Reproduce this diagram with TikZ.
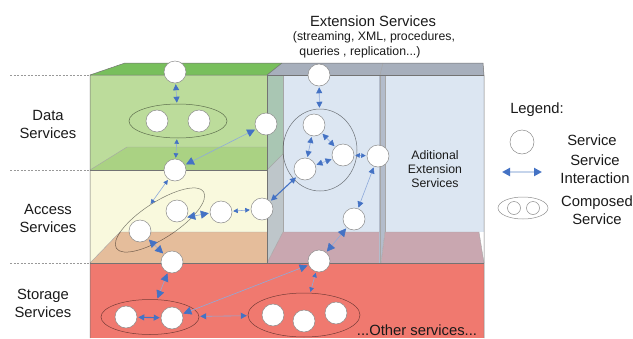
\documentclass[tikz,border=0pt]{standalone}
\usepackage{fontspec}
\setmainfont{Liberation Sans}
\usetikzlibrary{arrows.meta,shapes.geometric}

\definecolor{greentop}{HTML}{78BF5C}
\definecolor{greenfront}{HTML}{BCDC9B}
\definecolor{greenfloor}{HTML}{AAD283}
\definecolor{yellowfront}{HTML}{F9F9DD}
\definecolor{tanfloor}{HTML}{E5BD9B}
\definecolor{storagered}{HTML}{F0796F}
\definecolor{bandgray}{HTML}{A7AFBC}
\definecolor{wallblue}{HTML}{DCE6F2}
\definecolor{sidegray}{HTML}{BEC6CA}
\definecolor{sidegreen}{HTML}{A9C6B3}
\definecolor{divgray}{HTML}{B3BCCB}
\definecolor{mauve}{HTML}{C9A7B0}
\definecolor{linkc}{HTML}{8EAADB}
\definecolor{tipc}{HTML}{4472C4}
\definecolor{txt}{HTML}{1A1A1A}

\tikzset{
  edge/.style={draw=black!55, line width=0.5pt},
  faint/.style={draw=black!35, line width=0.4pt},
  guide/.style={draw=black!40, line width=0.4pt, dash pattern=on 2pt off 1.5pt},
  svc/.style={circle, draw=black!45, fill=white, line width=0.5pt, minimum size=22pt, inner sep=0pt},
  comp/.style={ellipse, draw=black, draw opacity=0.5, line width=0.5pt, inner sep=0pt},
  big/.style={font=\fontsize{14.8}{18}\selectfont, text=txt, align=center, inner sep=0pt},
  small/.style={font=\fontsize{12.3}{14}\selectfont, text=txt, align=center, inner sep=0pt},
  link/.style={draw=linkc, line width=0.6pt, shorten <=1pt, shorten >=1pt},
  tsm/.style={>={Triangle[length=4.5pt,width=4.5pt,color=tipc]}, <->},
  tmd/.style={>={Triangle[length=6pt,width=6pt,color=tipc]}, <->},
  tlg/.style={>={Triangle[length=8pt,width=8pt,color=tipc]}, <->},
  thick link/.style={draw=tipc, line width=1.1pt},
}

\begin{document}
\begin{tikzpicture}[x=1pt, y=-1pt]
\useasboundingbox (0,0) rectangle (633,338);

% level guides on the left
\draw[guide] (10,75) -- (90,75);
\draw[guide] (10,170) -- (90,170);
\draw[guide] (10,263) -- (90,263);

% storage layer
\fill[storagered] (90,263) rectangle (484,338);

% extension column: back wall, side wall, floors, divider, ceiling band
\fill[wallblue] (283,75) rectangle (484,232);
\fill[sidegray] (267,75) -- (283,75) -- (283,232) -- (267,263) -- cycle;
\fill[sidegreen] (267,75) -- (283,75) -- (283,154) -- (267,170) -- cycle;
\fill[mauve] (267,263) -- (283,232) -- (380,232) -- (380,263) -- cycle;
\fill[divgray] (379,75) -- (385,75) -- (385,232) -- (381,263) -- (379,263) -- cycle;
\fill[mauve] (381,263) -- (385,232) -- (479,232) -- (484,263) -- cycle;
\fill[bandgray] (267,75) -- (282,63) -- (483,63) -- (484,75) -- cycle;

% data layer
\fill[greenfront] (90,75) rectangle (267,170);
\fill[greenfloor] (90,170) -- (127,147) -- (267,147) -- (267,170) -- cycle;
\fill[greentop] (90,75) -- (125,63) -- (282,63) -- (267,75) -- cycle;

% access layer
\fill[yellowfront] (90,170) rectangle (267,263);
\fill[tanfloor] (90,263) -- (120,232) -- (267,232) -- (267,263) -- cycle;

% outlines
\draw[faint] (90,170) -- (127,147) -- (267,147);
\draw[faint] (90,263) -- (120,232) -- (267,232);
\draw[faint] (267,263) -- (283,232) -- (380,232);
\draw[faint] (381,263) -- (385,232) -- (479,232) -- (484,263);
\draw[faint] (283,75) -- (283,232);
\draw[faint] (283,154) -- (267,170);
\draw[faint] (380,75) -- (380,263);
\draw[faint] (385,75) -- (385,232);
\draw[faint] (380,75) -- (383,63);
\draw[edge] (90,338) -- (90,75) -- (125,63) -- (483,63) -- (484,75) -- (484,338);
\draw[edge] (90,75) -- (267,75) -- (282,63);
\draw[edge] (267,75) -- (484,75);
\draw[edge] (267,75) -- (267,263);
\draw[edge] (90,170) -- (267,170);
\draw[edge] (90,263) -- (484,263);

% labels
\node[big] (lblData) at (48,124) {Data\\Services};
\node[big] (lblAccess) at (48,218) {Access\\Services};
\node[big] (lblStorage) at (43,303) {Storage\\Services};
\node[big] (extTitle) at (373,21) {Extension Services};
\node[small] (extSubA) at (374,37) {(streaming, XML, procedures,};
\node[small] (extSubB) at (360,52) {queries , replication...)};
\node[small] (addExt) at (435,169) {Aditional\\Extension\\Services};
\node[big] (other) at (417,330) {...Other services...};

% data services
\node[comp, minimum width=98pt, minimum height=34pt] (dC) at (178,121) {};
\node[svc] (d1) at (175,72) {};
\node[svc] (d2) at (157,121) {};
\node[svc] (d3) at (199,121) {};
\node[svc] (d4) at (266,124) {};
\node[svc] (a1) at (175,170) {};

% access services
\node[comp, rotate=33, minimum width=104pt, minimum height=36pt] (aC) at (160,220) {};
\node[svc] (a2) at (177,211) {};
\node[svc] (a3) at (140,231) {};
\node[svc] (a4) at (221,212) {};
\node[svc] (a5) at (262,209) {};

% extension services
\node[comp, minimum width=74pt, minimum height=82pt] (eC) at (320,150) {};
\node[svc] (e1) at (319,75) {};
\node[svc] (e2) at (314,125) {};
\node[svc] (e3) at (343,155) {};
\node[svc] (e4) at (305,169) {};
\node[svc] (e5) at (378,156) {};
\node[svc] (c2) at (354,219) {};
\node[svc] (c1) at (319,261) {};

% storage services
\node[comp, minimum width=98pt, minimum height=35pt] (sC1) at (150,317) {};
\node[comp, minimum width=112pt, minimum height=44pt] (sC2) at (304,315) {};
\node[svc] (s1) at (172,262) {};
\node[svc] (s2) at (126,317) {};
\node[svc] (s3) at (172,318) {};
\node[svc] (s4) at (273,315) {};
\node[svc] (s5) at (304,321) {};
\node[svc] (s6) at (336,313) {};

% interactions
\draw[link, tmd] (d1) -- (dC);
\draw[link, tsm] (dC) -- (a1);
\draw[link, tlg] (a1) -- (d4);
\draw[link, tsm] (a1) -- (aC.north);
\draw[link, tlg] (a2.-35) -- (a4.185);
\draw[link, tsm] (a4) -- (a5);
\draw[link, tlg] (a3) -- (s1);
\draw[link, thick link, tmd] (a5) -- (e4);
\draw[link, tmd] (e1) -- (eC);
\draw[link, tmd] (e2) -- (e3);
\draw[link, tmd] (e2) -- (e4);
\draw[link, tmd] (e4) -- (e3);
\draw[link, tsm] (e3) -- (e5);
\draw[link, tmd] (e5) -- (c2);
\draw[link, tlg] (c2) -- (c1);
\draw[link, tsm] (c1) -- (sC2);
\draw[link, tlg] (s3) -- (c1);
\draw[link, tlg] (s1) -- (sC1);
\draw[link, thick link, tmd] (s2) -- (s3);
\draw[link, tmd] (sC1) -- (sC2);

% legend
\node[big] (lgTitle) at (537,110) {Legend:};
\node[svc, minimum size=24pt] (lgSvc) at (522,142) {};
\node[big] (lgSvcTxt) at (592,140) {Service};
\coordinate (lgA) at (502,172);
\coordinate (lgB) at (542,172);
\draw[draw=wallblue!70!linkc, line width=2pt, tlg] (lgA) -- (lgB);
\node[big] (lgIntTxt) at (595,169) {Service\\Interaction};
\node[ellipse, draw=black!45, line width=0.5pt, minimum width=50pt, minimum height=22pt, inner sep=0pt] (lgComp) at (523,208) {};
\node[svc, minimum size=13pt] (lgC1) at (514,208) {};
\node[svc, minimum size=13pt] (lgC2) at (533,208) {};
\node[big] (lgCompTxt) at (597,210) {Composed\\Service};
\end{tikzpicture}
\end{document}
